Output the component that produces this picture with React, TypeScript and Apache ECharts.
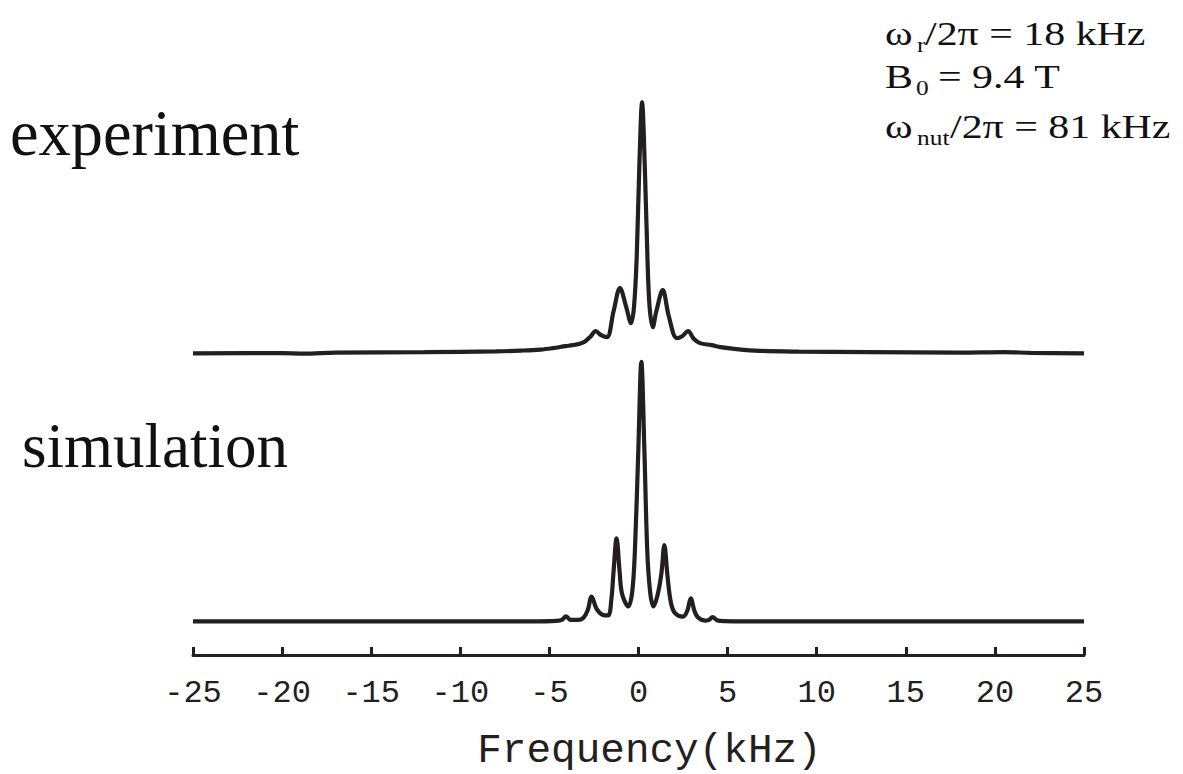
import React, { useEffect, useRef } from "react";
import * as echarts from "echarts";

// Frequency axis ticks (kHz)
const xTickMin = -25;
const xTickMax = 25;
const xTickStep = 5;

// Experimental spectrum (kHz, relative intensity)
const expFreq = [
  -25, -20, -18.8, -17, -12, -8, -6.6, -5.5, -4.8, -4.1, -3.7, -3.3, -3.0, -2.7, -2.4, -2.1, -1.77,
  -1.4, -1.04, -0.7, -0.42, -0.25, -0.1, 0.05, 0.2, 0.35, 0.5, 0.62, 0.8, 1.0, 1.36, 1.7, 2.15,
  2.45, 2.78, 3.1, 3.45, 4.1, 4.6, 5.5, 6.8, 9, 13, 18, 20.5, 22, 25,
];
const expIntensity = [
  -0.9, -0.8, -1.0, -0.6, -0.4, -0.1, 0.2, 0.6, 1.2, 2.0, 2.4, 3.0, 3.9, 5.8, 8.0, 6.4, 5.6,
  16, 25.3, 18, 11.2, 18, 38, 75, 100, 75, 38, 18, 9.6, 16, 24.5, 14, 5.2,
  6.0, 8.0, 5.0, 3.2, 2.4, 1.6, 0.8, 0.1, -0.2, -0.4, -0.6, -0.4, -0.7, -0.9,
];

// Simulated spectrum (kHz, relative intensity)
const simFreq = [
  -25, -6, -4.6, -4.3, -4.07, -3.8, -3.4, -3.1, -2.85, -2.63, -2.35, -2.0, -1.7, -1.52, -1.4,
  -1.23, -1.06, -0.92, -0.57, -0.35, -0.2, -0.01, 0.16, 0.33, 0.49, 0.65, 0.83, 1.05, 1.28, 1.45,
  1.63, 1.82, 2.05, 2.5, 2.75, 2.93, 3.15, 3.35, 3.73, 3.95, 4.16, 4.4, 4.8, 6, 25,
];
const simIntensity = [
  0, 0, 0.2, 0.6, 2.0, 0.6, 0.6, 1.4, 4.5, 10.0, 5.0, 2.6, 2.4, 9, 20,
  33.4, 20, 11, 6.0, 12, 28.7, 68.9, 104.3, 68.9, 28.7, 12, 6.0, 10, 19, 30.7,
  18, 7.5, 3.3, 1.9, 4.5, 9.3, 4, 1.5, 0.3, 0.6, 1.7, 0.5, 0.1, 0, 0,
];

// Vertical offset of the experimental trace above the simulated one (intensity units)
const EXP_OFFSET = 108.6;

export default function App() {
  const ref = useRef<HTMLDivElement>(null);

  useEffect(() => {
    const chart = echarts.init(ref.current!, null, { renderer: "svg" });
    const ink = "#231f20";
    const serif = '"Liberation Serif", "Times New Roman", serif';
    const mono = '"Liberation Mono", "Courier New", monospace';
    // y for verticalAlign middle, given a desired alphabetic baseline
    const mid = (baseline: number, fs: number) => baseline - 0.3375 * fs;
    const sx = 1.27;

    const t = (text: string, x: number, baseline: number, fs: number, scaleX = 1) => ({
      type: "text",
      x,
      y: mid(baseline, fs),
      scaleX,
      style: {
        text,
        fill: "#111",
        font: `${fs}px ${serif}`,
        align: "left",
        verticalAlign: "middle",
      },
    });

    chart.setOption({
      animation: false,
      backgroundColor: "#ffffff",
      grid: {
        left: 193,
        right: 99,
        top: 95,
        bottom: 119,
        containLabel: false,
        outerBoundsMode: "none",
      },
      xAxis: {
        type: "value",
        min: xTickMin,
        max: xTickMax,
        interval: xTickStep,
        name: "Frequency(kHz)",
        nameLocation: "middle",
        nameGap: 76,
        nameTextStyle: {
          fontFamily: mono,
          fontSize: 41,
          lineHeight: 40,
          color: ink,
          padding: [0, 0, 0, 22],
        },
        axisLine: { show: true, onZero: false, lineStyle: { color: ink, width: 3 } },
        axisTick: { show: true, inside: true, length: 8, lineStyle: { color: ink, width: 3 } },
        axisLabel: {
          fontFamily: mono,
          fontSize: 32,
          color: ink,
          margin: 22,
          showMinLabel: true,
          showMaxLabel: true,
        },
        splitLine: { show: false },
      },
      yAxis: {
        type: "value",
        min: -13.5,
        max: 211.5,
        show: false,
      },
      series: [
        {
          name: "experiment",
          type: "line",
          showSymbol: false,
          smooth: 0.35,
          lineStyle: { color: ink, width: 4.2 },
          data: expFreq.map((f, i) => [f, expIntensity[i] + EXP_OFFSET]),
        },
        {
          name: "simulation",
          type: "line",
          showSymbol: false,
          smooth: 0.35,
          lineStyle: { color: ink, width: 4.2 },
          data: simFreq.map((f, i) => [f, simIntensity[i]]),
        },
      ],
      graphic: [
        t("experiment", 10, 155, 66, 0.975),
        t("simulation", 22, 467, 63),
        // ω_r/2π = 18 kHz
        t("ω", 885, 45, 33, sx),
        t("r", 917, 52, 20, sx),
        t("/2π = 18 kHz", 925, 45, 33, sx),
        // B_0 = 9.4 T
        t("B", 885, 88, 33, sx),
        t("0", 916, 95, 20, sx),
        t("= 9.4 T", 938, 88, 33, sx),
        // ω_nut/2π = 81 kHz
        t("ω", 885, 138, 33, sx),
        t("nut", 917, 145, 20, sx),
        t("/2π = 81 kHz", 950, 138, 33, sx),
      ],
    });

    return () => chart.dispose();
  }, []);

  return (
    <div
      ref={ref}
      style={{ position: "fixed", left: 0, top: 0, width: 1183, height: 774, background: "#fff" }}
    />
  );
}
